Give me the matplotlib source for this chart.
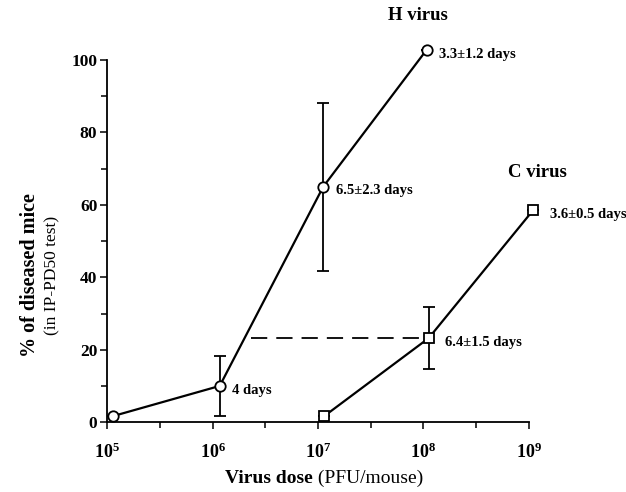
#!/usr/bin/env python3
"""Dose-response of H and C virus: % diseased mice vs virus dose."""

import numpy as np
import matplotlib

matplotlib.use("Agg")
import matplotlib.pyplot as plt
from matplotlib.ticker import FixedLocator, FixedFormatter

plt.rcParams["font.family"] = ["Liberation Serif", "DejaVu Serif"]
plt.rcParams["mathtext.fontset"] = "custom"
plt.rcParams["mathtext.rm"] = "Liberation Serif"
plt.rcParams["mathtext.bf"] = "Liberation Serif:bold"

# H virus
h_dose = [1.15e5, 1.17e6, 1.12e7, 1.07e8]
h_pct = [1.7, 10.0, 65.0, 102.8]
h_err = [0, 8.4, 23.2, 0]
h_labels = ["", "4 days", "6.5\u00b12.3 days", "3.3\u00b11.2 days"]

# C virus
c_dose = [1.15e7, 1.12e8, 1.1e9]
c_pct = [1.7, 23.2, 58.6]
c_err = [0, 8.5, 0]
c_labels = ["", "6.4\u00b11.5 days", "3.6\u00b10.5 days"]

# dashed guide at equal response
guide_dose = [2.3e6, 1.12e8]
guide_pct = [23.2, 23.2]

x_ticks = [1e5, 1e6, 1e7, 1e8, 1e9]
x_ticklabels = [r"$\mathbf{10^{5}}$", r"$\mathbf{10^{6}}$", r"$\mathbf{10^{7}}$",
                r"$\mathbf{10^{8}}$", r"$\mathbf{10^{9}}$"]
y_ticks = [0, 20, 40, 60, 80, 100]


def main():
    fig = plt.figure(figsize=(6.26, 4.92), dpi=100)
    ax = fig.add_axes([0.171, 0.142, 0.674, 0.736])

    kw = dict(color="black", lw=1.6, capsize=4, elinewidth=1.3,
              capthick=1.3, mfc="white", mec="black", mew=1.3,
              clip_on=False, zorder=3)
    ax.errorbar(h_dose, h_pct, yerr=h_err, marker="o", ms=7.5, **kw)
    ax.errorbar(c_dose, c_pct, yerr=c_err, marker="s", ms=7.5, **kw)
    ax.plot(guide_dose, guide_pct, color="black", lw=1.3,
            dashes=(9, 5), zorder=2)

    for d, p, s in zip(h_dose, h_pct, h_labels):
        if s:
            ax.annotate(s, (d, p), xytext=(9, -3), textcoords="offset points",
                        fontsize=10.5, fontweight="bold", va="center",
                        annotation_clip=False)
    for d, p, s in zip(c_dose, c_pct, c_labels):
        if s:
            ax.annotate(s, (d, p), xytext=(12, -3), textcoords="offset points",
                        fontsize=10.5, fontweight="bold", va="center",
                        annotation_clip=False)

    fig.text(0.668, 0.968, "H virus", fontsize=13.5, fontweight="bold",
             ha="center", va="center")
    fig.text(0.858, 0.650, "C virus", fontsize=13.5, fontweight="bold",
             ha="center", va="center")

    ax.set_xscale("log")
    ax.set_xlim(1e5, 1e9)
    ax.set_ylim(0, 100)
    ax.xaxis.set_major_locator(FixedLocator(x_ticks))
    ax.xaxis.set_major_formatter(FixedFormatter(x_ticklabels))
    ax.xaxis.set_minor_locator(FixedLocator([10 ** (k + 0.5) for k in range(5, 9)]))
    ax.xaxis.set_minor_formatter(FixedFormatter([]))
    ax.yaxis.set_major_locator(FixedLocator(y_ticks))
    ax.yaxis.set_minor_locator(FixedLocator([10, 30, 50, 70, 90]))

    for s in ("top", "right"):
        ax.spines[s].set_visible(False)
    for s in ("left", "bottom"):
        ax.spines[s].set_linewidth(1.3)
    ax.tick_params(which="both", direction="out", width=1.1)
    ax.tick_params(which="major", length=5)
    ax.tick_params(which="minor", length=4)
    ax.tick_params(axis="x", which="major", pad=10, labelsize=13)
    ax.tick_params(axis="y", which="major", pad=2, labelsize=12.5)
    for lab in ax.get_yticklabels():
        lab.set_fontweight("bold")

    fig.text(0.500, 0.028, "Virus dose", fontsize=14, fontweight="bold",
             ha="right", va="center")
    fig.text(0.500, 0.028, " (PFU/mouse)", fontsize=14, ha="left",
             va="center")
    fig.text(0.048, 0.44, "% of diseased mice", fontsize=14.5,
             fontweight="bold", rotation=90, ha="center", va="center")
    fig.text(0.083, 0.44, "(in IP-PD50 test)", fontsize=12.5,
             rotation=90, ha="center", va="center")

    fig.savefig("out.png", dpi=100)


if __name__ == "__main__":
    main()
